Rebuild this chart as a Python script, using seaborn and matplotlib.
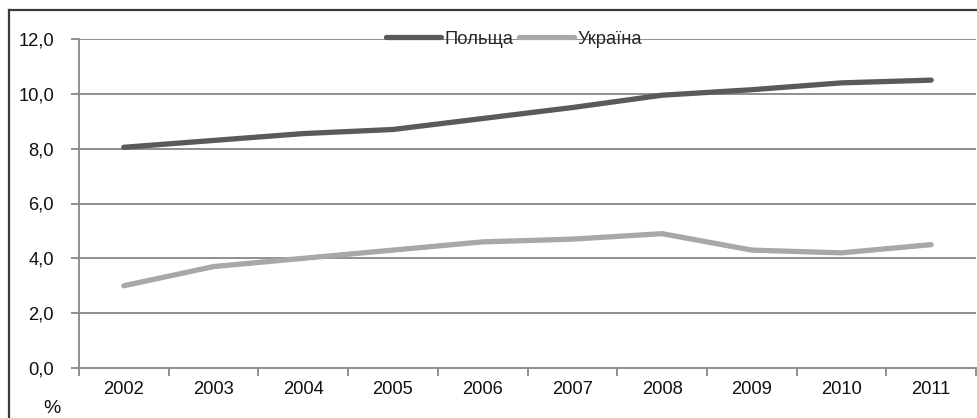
import matplotlib
matplotlib.use("Agg")
import matplotlib.pyplot as plt
import matplotlib.ticker as mticker
from matplotlib.lines import Line2D
import seaborn as sns
import pandas as pd

years = ["2002", "2003", "2004", "2005", "2006", "2007", "2008", "2009", "2010", "2011"]
poland = [8.05, 8.3, 8.55, 8.7, 9.1, 9.5, 9.95, 10.15, 10.4, 10.5]
ukraine = [3.0, 3.7, 4.0, 4.3, 4.6, 4.7, 4.9, 4.3, 4.2, 4.5]
series_names = ["Польща", "Україна"]
y_ticks = [0, 2, 4, 6, 8, 10, 12]

sns.set_theme(style="white")
plt.rcParams["font.family"] = ["Liberation Sans", "DejaVu Sans"]

df = pd.DataFrame({
    "year": list(range(len(years))) * 2,
    "value": poland + ukraine,
    "series": [series_names[0]] * len(years) + [series_names[1]] * len(years),
})

W, H = 978, 418
fig = plt.figure(figsize=(W / 100, H / 100), dpi=100)
ax = fig.add_axes([79 / W, (H - 368) / H, (976 - 79) / W, (368 - 39) / H])

grid_col = "#878787"
palette = {series_names[0]: "#5a5a5a", series_names[1]: "#a8a8a8"}
fs = 13.2

for yv in y_ticks[1:]:
    ax.axhline(yv, color=grid_col, lw=1.3, zorder=0)

sns.lineplot(data=df, x="year", y="value", hue="series", palette=palette,
             linewidth=3.8, ax=ax, legend=False, sort=False,
             solid_capstyle="round")

ax.set_xlim(-0.5, len(years) - 0.5)
ax.set_ylim(0, 12)
ax.set_xlabel("")
ax.set_ylabel("")

# category ticks sit on the boundaries, labels sit between them
ax.xaxis.set_major_locator(mticker.FixedLocator([i - 0.5 for i in range(len(years) + 1)]))
ax.xaxis.set_major_formatter(mticker.NullFormatter())
ax.xaxis.set_minor_locator(mticker.FixedLocator(list(range(len(years)))))
ax.xaxis.set_minor_formatter(mticker.FixedFormatter(years))
ax.tick_params(axis="x", which="major", length=6, width=1.3, color=grid_col,
               direction="out", bottom=True)
ax.tick_params(axis="x", which="minor", length=0, labelsize=fs, pad=9,
               labelcolor="#111111", bottom=True)

ax.set_yticks(y_ticks)
ax.set_yticklabels([f"{v:.1f}".replace(".", ",") for v in y_ticks])
ax.tick_params(axis="y", length=6, width=1.3, color=grid_col, direction="out",
               labelsize=fs, pad=12, labelcolor="#111111", left=True)

for side in ["top", "right"]:
    ax.spines[side].set_visible(False)
for side in ["left", "bottom"]:
    ax.spines[side].set_color(grid_col)
    ax.spines[side].set_linewidth(1.3)

handles = [plt.Line2D([], [], color=palette[n], lw=3.8, solid_capstyle="round")
           for n in series_names]
ax.legend(handles, series_names, loc="center", bbox_to_anchor=(0.485, 1.0),
          ncol=2, frameon=False, fontsize=fs, handlelength=3.0,
          handletextpad=0.2, columnspacing=0.3, borderaxespad=0)

fig.text(52 / W, 1 - 400 / H, "%", ha="center", va="top", fontsize=14,
         color="#111111")

# outer chart frame: left and top edges
frame_col = "#3a3a3a"
fig.add_artist(Line2D([8.5 / W, 8.5 / W], [0, 1 - 10 / H], transform=fig.transFigure,
                      color=frame_col, lw=1.6, solid_capstyle="projecting"))
fig.add_artist(Line2D([8.5 / W, 1], [1 - 10 / H, 1 - 10 / H], transform=fig.transFigure,
                      color=frame_col, lw=1.6, solid_capstyle="projecting"))

fig.savefig("out.png", dpi=100)
